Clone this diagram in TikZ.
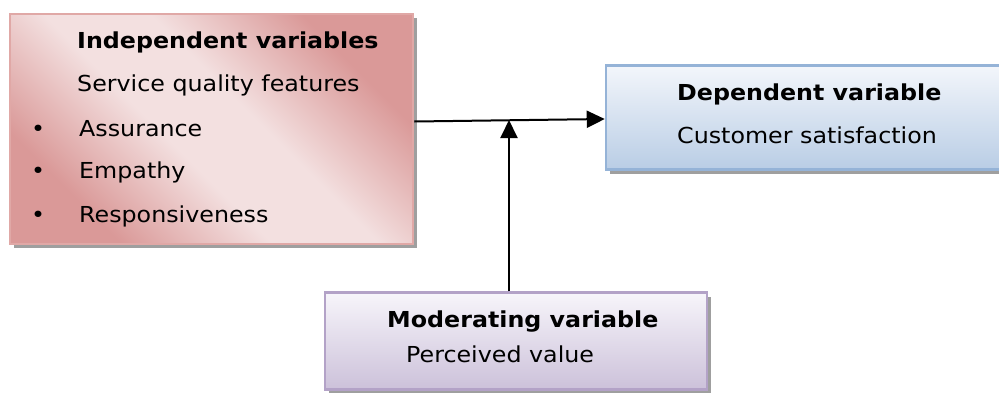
\documentclass[tikz,border=0pt]{standalone}
\usepackage{fontspec}
\setmainfont{DejaVu Sans}[FakeStretch=1.08]
\usetikzlibrary{arrows.meta,shadows}

\definecolor{pinkdark}{HTML}{DA9998}
\definecolor{pinklight}{HTML}{F3E0E0}
\definecolor{pinkline}{HTML}{E0A8A6}
\definecolor{bluetop}{HTML}{F3F6FB}
\definecolor{bluebot}{HTML}{B9CDE5}
\definecolor{blueline}{HTML}{95B3D7}
\definecolor{purptop}{HTML}{F7F5FA}
\definecolor{purpbot}{HTML}{CCC1DA}
\definecolor{purpline}{HTML}{B3A2C7}
\pgfdeclarehorizontalshading{pinkdiag}{100bp}{color(0bp)=(pinkdark); color(27bp)=(pinkdark); color(44bp)=(pinklight); color(56bp)=(pinklight); color(73bp)=(pinkdark); color(100bp)=(pinkdark)}

\begin{document}
\begin{tikzpicture}[x=1pt, y=-1pt,
   box/.style={draw, line width=2.5pt, inner sep=0pt,
       drop shadow={shadow xshift=4pt, shadow yshift=-4pt, fill=gray!75, opacity=1}},
   indepbox/.style={box, draw=pinkline, shading=pinkdiag, shading angle=45},
   depbox/.style={box, draw=blueline, top color=bluetop, bottom color=bluebot},
   moderbox/.style={box, draw=purpline, top color=purptop, bottom color=purpbot},
   txt/.style={anchor=base west, inner sep=0pt, font=\fontsize{22}{26}\selectfont},
   head/.style={txt, font=\fontsize{22}{26}\selectfont\bfseries},
   link/.style={line width=2pt, -{Triangle[length=18pt, width=17pt]}}]

\clip (0,0) rectangle (999,392);
\useasboundingbox (0,0) rectangle (999,392);

% boxes
\node[indepbox, minimum width=403pt, minimum height=230pt] (indep) at (211.5,129) {};
\node[depbox, minimum width=396pt, minimum height=104pt] (dep) at (804,117.5) {};
\node[moderbox, minimum width=382pt, minimum height=97pt] (moder) at (516,341) {};

% texts
\node[head] (indeptitle) at (77,48) {Independent variables};
\node[txt] (service) at (77,91) {Service quality features};
\foreach \name/\word/\base in {assur/Assurance/136, empat/Empathy/178, respo/Responsiveness/222}
   {\node[txt] (b\name) at (31,\base) {\textbullet};
    \node[txt] (\name) at (79,\base) {\word};}
\node[head] (deptitle) at (677,100) {Dependent variable};
\node[txt] (custsat) at (677,143) {Customer satisfaction};
\node[head] (modertitle) at (387,327) {Moderating variable};
\node[txt] (perval) at (406,362) {Perceived value};

% connectors
\coordinate (meet) at (509,120);
\draw[link] ([yshift=7.5pt]indep.east) -- ([yshift=-1.5pt]dep.west);
\draw[link] (moder.north -| meet) -- (meet);

\end{tikzpicture}
\end{document}
